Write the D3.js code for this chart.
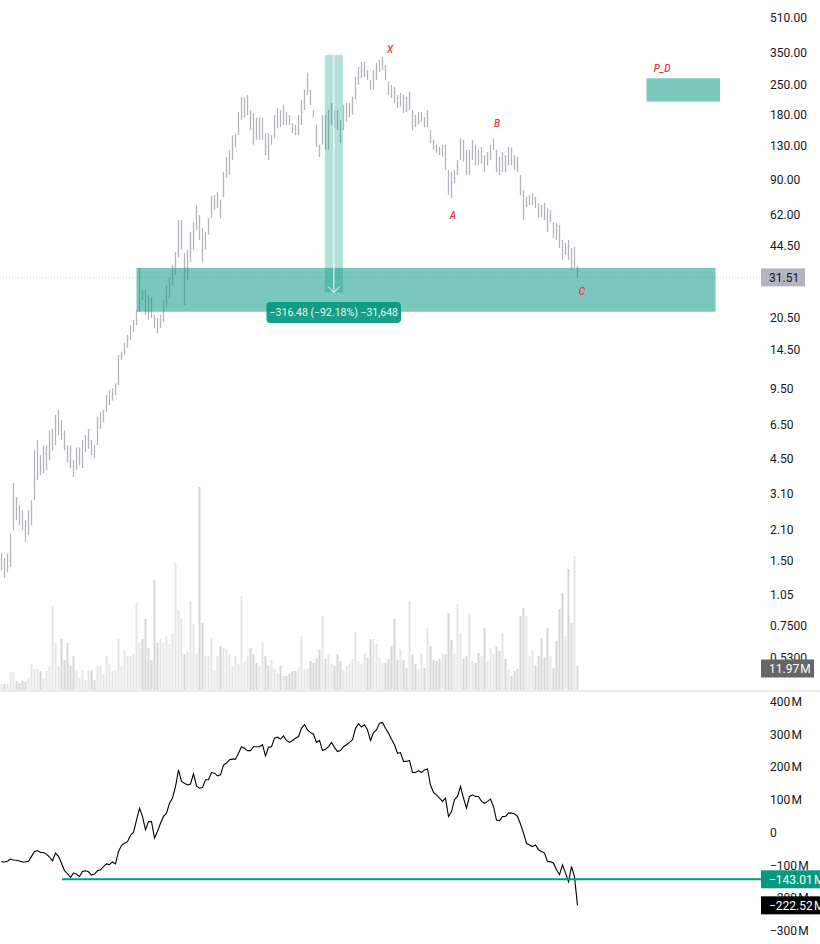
<!DOCTYPE html>
<html>
<head>
<meta charset="utf-8">
<script src="https://cdn.jsdelivr.net/npm/d3@7"></script>
<style>
  html, body { margin: 0; padding: 0; background: #fff; }
  svg { display: block; }
</style>
</head>
<body>
<div id="chart"></div>
<script>
const width = 820
const height = 944
const fontName = "Roboto, sans-serif"

// one bar per index
const highs = [1.63,1.55,1.63,2.02,3.46,2.98,2.73,2.59,2.33,2.59,2.88,4.93,5.5,4.67,5.2,5.2,6.1,6.2,7.2,7.6,6.8,6.1,5.2,5.2,4.43,5.08,5.08,5.5,5.8,6.2,5.5,5.2,7.05,7.45,7.6,8.9,9.4,9.6,10.1,13.7,14.2,15.6,17,18.9,20,22.2,34.9,27.5,27.5,26.1,25.5,21.1,20.4,21.1,24.7,29,31.3,36,41.4,58.3,58.3,40.9,42.3,51.3,57,68.5,61.5,53.5,51.3,59.5,75.4,76.2,78.7,72.3,97.5,114.6,124,145,148,186,219,217,223,190,184,175,175,175,148,148,145,180,194,190,201,186,180,165,162,180,212,236,283,236,190,162,131,180,180,190,205,190,190,171,201,205,205,219,271,302,318,318,292,262,292,315,325,336,308,257,249,244,223,228,223,219,231,190,180,186,186,176,190,153,138,131,128,131,131,99.7,97.5,99.7,111,140,138,124,124,138,131,124,128,117,121,131,140,124,115,121,117,128,127,117,115,94.5,80.4,74.7,76.2,77.7,74.7,70,68.5,70,66.2,64.9,57,56.4,55.3,47.1,45.6,47.1,43.2,43.7,35.6]
const lows = [1.36,1.25,1.33,1.41,2.09,2.33,2.2,2.09,1.84,1.98,2.2,2.88,3.57,3.77,3.85,3.98,4.43,4.93,5.2,5.8,5.5,4.93,4.33,4.07,3.69,3.98,4.2,4.07,4.83,5,4.67,4.53,5.2,6.2,6.65,7.45,8,8.4,8.9,9.9,13,13.7,14.8,16.1,17.5,18.9,21.7,24.7,21.1,20,20.4,18.3,17.3,18.3,19.5,22.7,25.3,29,32.3,39,42.3,23.4,30.6,37.2,42.3,52.4,47.1,37.2,42.3,49.7,59.5,64.9,66.2,59.5,74.7,91.5,94.5,111,127,145,171,175,180,153,131,138,138,138,117,111,131,140,156,158,162,162,162,148,145,145,162,190,223,201,175,128,115,131,124,124,162,156,153,133,153,167,176,180,212,249,268,271,262,236,236,262,286,292,262,223,216,205,194,197,184,186,190,153,158,162,167,158,158,133,124,120,117,115,99.7,76.2,74,86.7,94.5,111,109,94.5,94.5,111,105,105,107,97.5,105,111,124,97.5,94.5,97.5,97.5,105,105,99.7,97.5,76.2,58.3,67,68.5,68.5,66.2,59.5,60.2,58.3,51.3,57,48.2,47.1,43.2,38,40.1,38,34.1,34.9,31.51]
// volume in millions
const volumes = [3,3,3,9,9,4.5,3.5,4.5,4,6,13,10.5,10.5,9.5,5.5,9.5,12,42,23.5,12,25.5,15,23.5,12,17,10,6,10,5,10,10,5,12,12,8,17,13,9.5,10,25.5,12,19.5,17,17,18,43.5,23.5,25.5,35.5,21,15,55,23.5,25.5,23.5,27,23,28.5,63.5,40,36,18,19.5,44.5,33,18,101.5,33.5,17,17,26,9.5,17,22,21,20.5,18,12,17,13,47,14.5,17,21,18,13.5,12,23.5,17,12,15,10.5,8.5,12,7,7,8,9.5,9.5,11,27,10.5,11,14.5,13.5,16,20,37,15.5,18,13,12,18,14.5,9.5,12,13,15.5,29,14.5,13,18.5,16,25.5,25.5,23,16,13.5,13.5,15.5,22,35.5,15,20.5,15,11,44.5,18,13,10.5,18,11,31,22,15,14.5,15.5,18.5,18,38.5,25,18.5,43,28.5,15.5,17,38.5,14.5,13.5,18.5,17,31,14.5,21,18,22,19.5,28.5,15.5,10.5,7,9.5,10.5,37,41,37,17,19.5,12,17,26,16,31,17,11,24.5,40.5,48.5,27,60.5,33.5,67,11.97]
// on balance volume in millions
const obvValues = [-89,-90,-88,-81,-84,-85,-87,-90,-90,-88,-73,-58,-55,-61,-61,-66,-75,-87,-63,-73,-94,-117,-126,-137,-124,-127,-135,-119,-117,-120,-130,-127,-117,-114,-104,-96,-98,-90,-96,-58,-40,-33,-28,-9,0,38,74,49,8,33,33,-17,3,28,49,59,89,105,140,191,156,150,145,148,179,142,135,137,161,161,183,181,173,176,206,212,222,224,224,242,262,257,250,250,262,262,262,268,234,260,262,288,291,285,295,281,275,281,288,293,318,330,313,305,300,275,281,250,254,262,275,260,247,250,262,268,275,283,318,332,322,329,313,281,305,313,334,336,318,303,285,268,242,244,217,217,220,183,183,189,183,191,194,145,122,115,105,95,105,49,64,100,110,140,105,74,110,115,110,110,95,89,95,102,79,38,36,49,49,59,59,57,49,26,-2,-33,-38,-43,-38,-53,-58,-63,-89,-89,-94,-114,-129,-99,-124,-150,-104,-135,-222.52]

const priceTicks = [510,350,250,180,130,90,62,44.5,20.5,14.5,9.5,6.5,4.5,3.1,2.1,1.5,1.05,0.75,0.53]
const priceLabels = ["510.00","350.00","250.00","180.00","130.00","90.00","62.00","44.50","20.50","14.50","9.50","6.50","4.50","3.10","2.10","1.50","1.05","0.7500","0.5300"]
const obvTicks = [400,300,200,100,0,-100,-200,-300]
const obvLabels = ["400\u200aM","300\u200aM","200\u200aM","100\u200aM","0","\u2212100\u200aM","\u2212200\u200aM","\u2212300\u200aM"]

const lastPrice = 31.51
const lastVolume = 11.97
const lastObv = -222.52
const obvLevel = -143.01

const zones = [
  { from: 45, to: 238, top: 34.9, bottom: 21.8 },
  { from: 215, to: 239.5, top: 267, bottom: 208 },
]
const measure = { from: 107.8, to: 113.8, top: 343.3, bottom: 26.82, label: "\u2212316.48 (\u221292.18%) \u221231,648" }
const labels = [
  { text: "X", i: 129.5, price: 365 },
  { text: "A", i: 150.5, price: 61.5 },
  { text: "B", i: 165.2, price: 165 },
  { text: "C", i: 193.5, price: 27.2 },
  { text: "P_D", i: 220.2, price: 296 },
]

var xScale = d3.scaleLinear([0, highs.length - 1], [1.5, 577.5])
var yPrice = d3.scaleLog([510, 0.53], [18, 658])
var yVolume = d3.scaleLinear([0, 100], [690, 490])
var yObv = d3.scaleLinear([400, -300], [701.5, 930.7])

var canvas = d3
  .select("#chart")
  .append("svg")
  .attr("width", width)
  .attr("height", height)
  .style("font-family", fontName)

// Last price dotted line
canvas
  .append("line")
  .attr("x1", 0)
  .attr("x2", 761)
  .attr("y1", yPrice(lastPrice))
  .attr("y2", yPrice(lastPrice))
  .style("stroke", "#d1d4dc")
  .style("stroke-width", 1)
  .style("stroke-dasharray", "1 2")

// Price bars
canvas
  .append("g")
  .attr("id", "bars")
  .selectAll("line")
  .data(highs)
  .enter()
  .append("line")
  .attr("x1", (_d, i) => xScale(i))
  .attr("x2", (_d, i) => xScale(i))
  .attr("y1", (d) => yPrice(d))
  .attr("y2", (_d, i) => yPrice(lows[i]))
  .style("stroke", "#b2b5be")
  .style("stroke-width", 1.3)

// Zones
canvas
  .append("g")
  .selectAll("rect")
  .data(zones)
  .enter()
  .append("rect")
  .attr("x", (d) => xScale(d.from))
  .attr("y", (d) => yPrice(d.top))
  .attr("width", (d) => xScale(d.to) - xScale(d.from))
  .attr("height", (d) => yPrice(d.bottom) - yPrice(d.top))
  .style("fill", "#089981")
  .style("fill-opacity", 0.54)

// Measure tool
const mx = (xScale(measure.from) + xScale(measure.to)) / 2
canvas
  .append("rect")
  .attr("x", xScale(measure.from))
  .attr("y", yPrice(measure.top))
  .attr("width", xScale(measure.to) - xScale(measure.from))
  .attr("height", yPrice(measure.bottom) - yPrice(measure.top))
  .style("fill", "#089981")
  .style("fill-opacity", 0.3)
canvas
  .append("path")
  .attr("d", `M${mx},${yPrice(measure.top)}V${yPrice(measure.bottom)}m-6,-6l6,6l6,-6`)
  .style("fill", "none")
  .style("stroke", "#fff")
  .style("stroke-width", 1)
canvas
  .append("rect")
  .attr("x", 266.5)
  .attr("y", 302)
  .attr("width", 134.5)
  .attr("height", 21)
  .attr("rx", 4)
  .style("fill", "#089981")
  .style("fill-opacity", 0.93)
canvas
  .append("text")
  .attr("x", 333.8)
  .attr("y", 316)
  .attr("text-anchor", "middle")
  .style("font-size", "10.5px")
  .style("fill", "#e8f5f2")
  .text(measure.label)

// Wave labels
canvas
  .append("g")
  .selectAll("text")
  .data(labels)
  .enter()
  .append("text")
  .attr("x", (d) => xScale(d.i))
  .attr("y", (d) => yPrice(d.price) + 3.5)
  .attr("text-anchor", "middle")
  .style("font-size", "10px")
  .style("font-style", "italic")
  .style("font-weight", 500)
  .style("fill", "#f23645")
  .text((d) => d.text)

// Volume
canvas
  .append("g")
  .attr("id", "volume")
  .selectAll("rect")
  .data(volumes)
  .enter()
  .append("rect")
  .attr("x", (_d, i) => xScale(i) - 1)
  .attr("y", (d) => yVolume(d))
  .attr("width", 2)
  .attr("height", (d) => yVolume(0) - yVolume(d))
  .style("fill", (_d, i) => (i > 0 && highs[i] + lows[i] < highs[i - 1] + lows[i - 1] ? "#d6d6d8" : "#e6e6e8"))

// Pane separator
canvas
  .append("line")
  .attr("x1", 0)
  .attr("x2", width)
  .attr("y1", 691)
  .attr("y2", 691)
  .style("stroke", "#e0e3eb")
  .style("stroke-width", 1.5)

// OBV
canvas
  .append("path")
  .datum(obvValues)
  .attr("d", d3.line().x((_d, i) => xScale(i)).y((d) => yObv(d)))
  .style("fill", "none")
  .style("stroke", "#000")
  .style("stroke-width", 1.1)
canvas
  .append("line")
  .attr("x1", 62)
  .attr("x2", 761)
  .attr("y1", yObv(obvLevel))
  .attr("y2", yObv(obvLevel))
  .style("stroke", "#089981")
  .style("stroke-width", 2)

// Axes
var priceAxis = d3.axisRight(yPrice).tickValues(priceTicks).tickSize(0).tickPadding(0).tickFormat((_d, i) => priceLabels[i])
var obvAxis = d3.axisRight(yObv).tickValues(obvTicks).tickSize(0).tickPadding(0).tickFormat((_d, i) => obvLabels[i])
;[[priceAxis], [obvAxis]].forEach(([axis]) => {
  var g = canvas.append("g").attr("transform", "translate(770,0)").call(axis)
  g.select(".domain").remove()
  g.selectAll("text").style("font-family", fontName).style("font-size", "12px").style("fill", "#131722")
})

// Value badges
const badges = [
  { y: yPrice(lastPrice), w: 44, bg: "#b2b5be", fg: "#131722", text: d3.format(".2f")(lastPrice) },
  { y: 668.5, w: 53, bg: "#666666", fg: "#fff", text: `${lastVolume}\u200aM` },
  { y: yObv(obvLevel), w: 59, bg: "#089981", fg: "#fff", text: `\u2212${-obvLevel}\u200aM` },
  { y: yObv(lastObv), w: 59, bg: "#000", fg: "#fff", text: `\u2212${-lastObv}\u200aM` },
]
var badge = canvas.append("g").selectAll("g").data(badges).enter().append("g")
badge
  .append("rect")
  .attr("x", 761)
  .attr("y", (d) => d.y - 9)
  .attr("width", (d) => d.w)
  .attr("height", 18)
  .style("fill", (d) => d.bg)
badge
  .append("text")
  .attr("x", 769)
  .attr("y", (d) => d.y + 4.3)
  .style("font-size", "12px")
  .style("fill", (d) => d.fg)
  .text((d) => d.text)
</script>
</body>
</html>
